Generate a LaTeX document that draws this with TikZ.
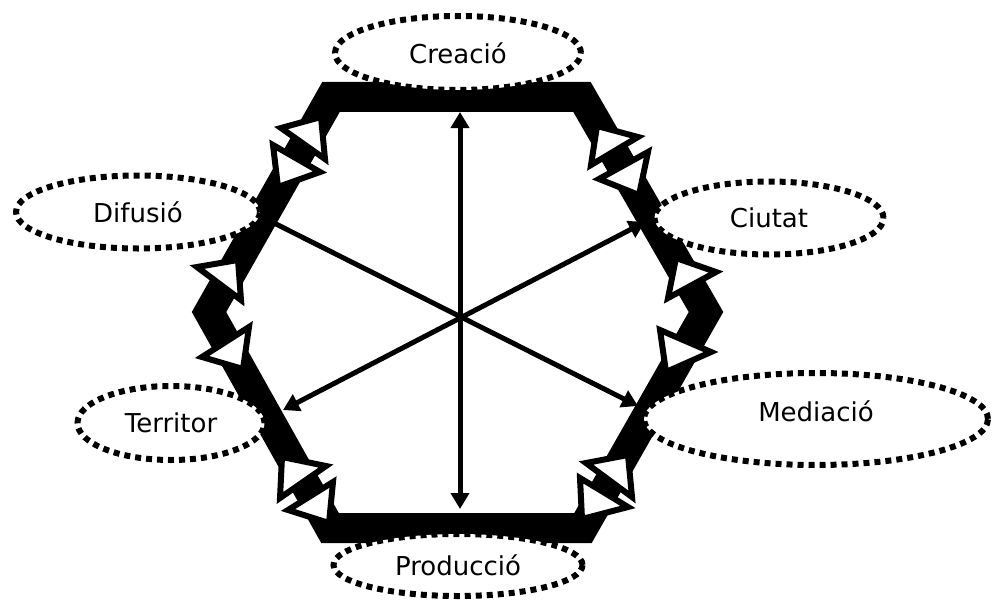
\documentclass[tikz,border=0pt]{standalone}
\usepackage{fontspec}
\setmainfont{DejaVu Sans}
\usetikzlibrary{shapes.geometric, arrows.meta}

\begin{document}
\begin{tikzpicture}[x=1pt, y=-1pt,
        fieldnode/.style={ellipse, draw=black, fill=white, line width=6pt, dash pattern=on 6pt off 5pt, inner sep=0pt, font=\fontsize{26}{30}\selectfont},
        ring/.style={black, line width=30pt, line join=miter},
        opentip/.style={draw=black, fill=white, line width=6pt, line join=miter},
        spoke/.style={line width=5pt, -{Triangle[length=16pt, width=18pt]}},
        twoway/.style={line width=5pt, {Triangle[length=16pt, width=18pt]}-{Triangle[length=16pt, width=18pt]}}
    ]
        \fill[white] (0,0) rectangle (992,599);
        \useasboundingbox (0,0) rectangle (992,599);

        \coordinate (nwc) at (331,97);
        \coordinate (nec) at (582,97);
        \coordinate (ev) at (706,312);
        \coordinate (sec) at (583,528);
        \coordinate (swc) at (330,528);
        \coordinate (wv) at (209,312);

        \coordinate (topend) at (460,112);
        \coordinate (botend) at (460,509);
        \coordinate (nwend) at (272,222);
        \coordinate (seend) at (638,406);
        \coordinate (swend) at (283,410);
        \coordinate (neend) at (645,222);

        \draw[twoway] (topend) -- (botend);
        \draw[spoke] (nwend) -- (seend);
        \draw[twoway] (swend) -- (neend);

        \draw[ring] (nwc) -- (nec) -- (ev) -- (sec) -- (swc) -- (wv) -- cycle;

        \draw[opentip] (281,128) -- (321,117) -- (325,159) -- cycle;
        \draw[opentip] (273,145) -- (278,187) -- (320,172) -- cycle;
        \draw[opentip] (597,126) -- (638,137) -- (591,165) -- cycle;
        \draw[opentip] (648,152) -- (599,179) -- (639,195) -- cycle;
        \draw[opentip] (197,267) -- (238,260) -- (241,300) -- cycle;
        \draw[opentip] (202,357) -- (249,327) -- (243,369) -- cycle;
        \draw[opentip] (676,258) -- (716,272) -- (668,298) -- cycle;
        \draw[opentip] (660,330) -- (711,352) -- (666,372) -- cycle;
        \draw[opentip] (282,457) -- (326,466) -- (280,498) -- cycle;
        \draw[opentip] (333,482) -- (288,510) -- (329,523) -- cycle;
        \draw[opentip] (586,463) -- (628,455) -- (632,497) -- cycle;
        \draw[opentip] (580,478) -- (582,519) -- (628,507) -- cycle;

        \node[fieldnode, minimum width=246pt, minimum height=74pt] (creacio) at (458,53) {Creació};
        \node[fieldnode, minimum width=244pt, minimum height=73pt] (difusio) at (138,212) {Difusió};
        \node[fieldnode, minimum width=229pt, minimum height=73pt] (ciutat) at (769,218) {Ciutat};
        \node[fieldnode, minimum width=344pt, minimum height=92pt, label={[font=\fontsize{26}{30}\selectfont, yshift=8pt]center:Mediació}] (mediacio) at (816,419) {};
        \node[fieldnode, minimum width=187pt, minimum height=74pt] (territor) at (171,423) {Territor};
        \node[fieldnode, minimum width=249pt, minimum height=62pt] (produccio) at (458,565) {Producció};
    \end{tikzpicture}
\end{document}
